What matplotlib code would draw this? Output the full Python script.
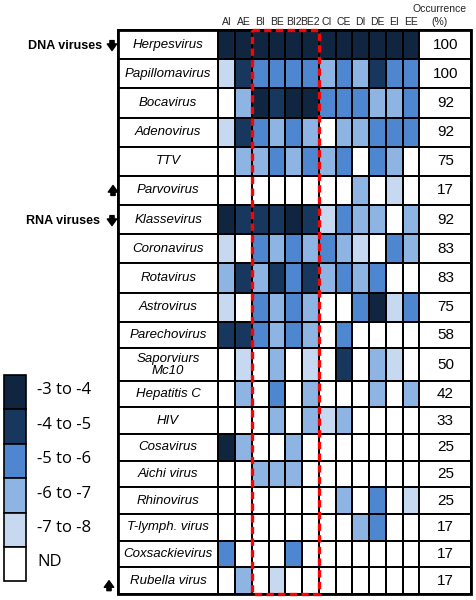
import matplotlib.pyplot as plt
import numpy as np
from matplotlib.colors import ListedColormap, BoundaryNorm
from matplotlib.patches import Rectangle

viruses = ['Herpesvirus', 'Papillomavirus', 'Bocavirus', 'Adenovirus', 'TTV',
           'Parvovirus', 'Klassevirus', 'Coronavirus', 'Rotavirus', 'Astrovirus',
           'Parechovirus', 'Saporviurs\nMc10', 'Hepatitis C', 'HIV', 'Cosavirus',
           'Aichi virus', 'Rhinovirus', 'T-lymph. virus', 'Coxsackievirus',
           'Rubella virus']
samples = ['AI', 'AE', 'BI', 'BE', 'BI2', 'BE2', 'CI', 'CE', 'DI', 'DE', 'EI', 'EE']

# abundance class per cell: 5 = -3 to -4, 4 = -4 to -5, 3 = -5 to -6,
# 2 = -6 to -7, 1 = -7 to -8, 0 = ND
levels = [
    [5, 5, 5, 5, 5, 5, 5, 5, 5, 5, 5, 5],
    [1, 4, 3, 3, 3, 3, 2, 3, 2, 4, 3, 3],
    [0, 2, 5, 4, 5, 5, 3, 3, 3, 2, 2, 3],
    [1, 4, 3, 2, 3, 2, 0, 2, 2, 3, 3, 3],
    [0, 2, 2, 3, 2, 3, 2, 3, 0, 3, 2, 0],
    [0, 0, 0, 0, 0, 0, 0, 0, 2, 0, 1, 0],
    [5, 4, 4, 4, 5, 4, 1, 3, 2, 2, 0, 2],
    [1, 0, 3, 2, 3, 2, 3, 2, 1, 0, 3, 2],
    [2, 4, 2, 4, 3, 4, 2, 3, 2, 3, 0, 0],
    [1, 0, 3, 2, 3, 2, 0, 0, 3, 5, 1, 3],
    [4, 4, 3, 2, 3, 2, 0, 3, 0, 0, 0, 0],
    [0, 1, 0, 2, 0, 1, 0, 4, 0, 2, 1, 0],
    [0, 2, 0, 3, 0, 2, 0, 0, 0, 2, 0, 2],
    [0, 0, 0, 2, 0, 2, 1, 2, 0, 0, 0, 0],
    [5, 2, 0, 0, 2, 0, 0, 0, 0, 0, 0, 0],
    [0, 0, 2, 2, 2, 0, 0, 0, 0, 0, 0, 0],
    [0, 0, 0, 0, 0, 0, 0, 2, 0, 3, 0, 1],
    [0, 0, 0, 0, 0, 0, 0, 0, 2, 3, 0, 0],
    [3, 0, 0, 0, 3, 0, 0, 0, 0, 0, 0, 0],
    [0, 2, 0, 1, 0, 0, 0, 0, 0, 0, 0, 0],
]
occurrence = [100, 100, 92, 92, 75, 17, 92, 83, 83, 75, 58, 50, 42, 33, 25, 25, 25, 17, 17, 17]
legend_labels = ['-3 to -4', '-4 to -5', '-5 to -6', '-6 to -7', '-7 to -8', 'ND']
legend_levels = [5, 4, 3, 2, 1, 0]

colors = ['#ffffff', '#c6d9f1', '#8eb4e3', '#4f86d0', '#17375e', '#10253f']
cmap = ListedColormap(colors)
norm = BoundaryNorm(np.arange(-0.5, 6.5, 1), cmap.N)

fig = plt.figure(figsize=(4.77, 6), dpi=100)
ax = fig.add_axes([0, 0, 1, 1])
ax.set_xlim(0, 477)
ax.set_ylim(600, 0)
ax.axis('off')

# layout (pixels)
row_h = [29.17] * 10 + [26.6, 32.4] + [26.66] * 8
y_edges = 30 + np.concatenate([[0], np.cumsum(row_h)])
y_mid = (y_edges[:-1] + y_edges[1:]) / 2
x0, cw = 218.3, 16.75
x_edges = x0 + cw * np.arange(len(samples) + 1)
lab_l, occ_r = 118, 471.5

ax.pcolormesh(x_edges, y_edges, np.array(levels), cmap=cmap, norm=norm,
              edgecolors='black', linewidth=1.4)

for i, name in enumerate(viruses):
    ax.add_patch(Rectangle((lab_l, y_edges[i]), x_edges[0] - lab_l, row_h[i],
                           facecolor='white', edgecolor='black', lw=1.4))
    ax.add_patch(Rectangle((x_edges[-1], y_edges[i]), occ_r - x_edges[-1], row_h[i],
                           facecolor='white', edgecolor='black', lw=1.4))
    ax.text((lab_l + x_edges[0]) / 2, y_mid[i], name, ha='center', va='center',
            style='italic', fontsize=9.5, family='Liberation Sans', linespacing=1.0)
    ax.text((x_edges[-1] + occ_r) / 2, y_mid[i], str(occurrence[i]), ha='center',
            va='center', fontsize=11, family='Liberation Sans')

ax.add_patch(Rectangle((lab_l, y_edges[0]), occ_r - lab_l, y_edges[-1] - y_edges[0],
                       fill=False, edgecolor='black', lw=2))

# dashed box around the B samples
ax.add_patch(Rectangle((x_edges[2], y_edges[0]), x_edges[6] - x_edges[2],
                       y_edges[-1] - y_edges[0], fill=False, edgecolor='#ff0000',
                       lw=2.4, linestyle=(0, (2.2, 1.3)), zorder=5))

# column headers
for j, s in enumerate(samples):
    ax.text(x0 + cw * (j + 0.5), 22, s, ha='center', va='center', fontsize=7.5,
            family='Liberation Sans', color='#222222')
ax.text(440, 9, 'Occurrence', ha='center', va='center', fontsize=7.5,
        family='Liberation Sans', color='#222222')
ax.text(440, 22, '(%)', ha='center', va='center', fontsize=7.5,
        family='Liberation Sans', color='#222222')


def block_arrow(x, y, down):
    d = 5 if down else -5
    ax.annotate('', xy=(x, y + d), xytext=(x, y - d),
                arrowprops=dict(arrowstyle='simple,head_length=0.6,head_width=0.85,tail_width=0.38',
                                color='black', shrinkA=0, shrinkB=0, mutation_scale=8))


# group markers
ax.text(102, y_mid[0] + 1, 'DNA viruses', ha='right', va='center', fontsize=9,
        fontweight='bold', family='Liberation Sans')
block_arrow(112, y_mid[0] + 1, True)
block_arrow(113, y_mid[5], False)
ax.text(100, y_mid[6] + 1, 'RNA viruses', ha='right', va='center', fontsize=9,
        fontweight='bold', family='Liberation Sans')
block_arrow(112, y_mid[6] + 1, True)
block_arrow(109, y_mid[-1] + 5, False)

# legend
leg_top, leg_h = 375, 34.4
for k, (lab, lv) in enumerate(zip(legend_labels, legend_levels)):
    ax.add_patch(Rectangle((4, leg_top + k * leg_h), 22, leg_h,
                           facecolor=colors[lv], edgecolor='black', lw=1.2))
    ax.text(37, leg_top + (k + 0.45) * leg_h, lab, ha='left', va='center',
            fontsize=12, family='Open Sans')

fig.savefig('out.png', dpi=100)
